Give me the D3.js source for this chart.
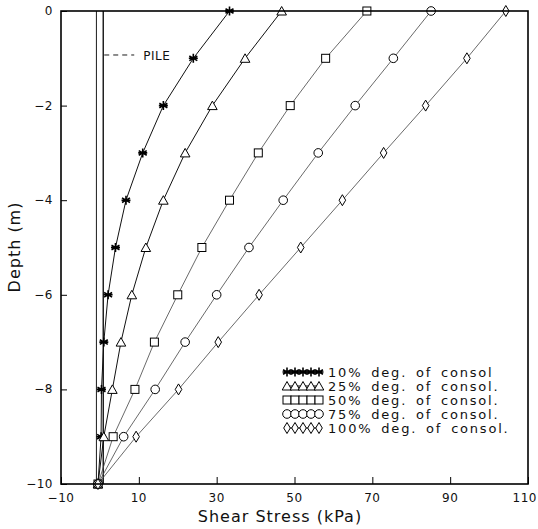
<!DOCTYPE html>
<html>
<head>
<meta charset="utf-8">
<script src="https://cdn.jsdelivr.net/npm/d3@7"></script>
<style>
  body { margin: 0; background: #fff; }
  text { font-family: "DejaVu Sans", sans-serif; fill: #111; }
</style>
</head>
<body>
<svg id="svg1"></svg>
<script>
// depth in m, shear stress in kPa
var depth = [0, -1, -2, -3, -4, -5, -6, -7, -8, -9, -10];
var cons10  = [33.3, 24.0, 16.3, 11.0, 6.7, 4.0, 2.1, 1.0, 0.4, 0.3, -0.5];
var cons25  = [46.7, 37.3, 28.9, 21.9, 16.3, 11.8, 8.2, 5.4, 3.2, 1.0, -0.5];
var cons50  = [68.6, 58.0, 48.9, 40.7, 33.3, 26.2, 20.0, 14.0, 9.0, 3.4, -0.5];
var cons75  = [85.1, 75.4, 65.6, 56.1, 47.1, 38.3, 30.0, 21.9, 14.2, 6.1, -0.5];
var cons100 = [104.3, 94.3, 83.7, 72.9, 62.3, 51.6, 40.9, 30.4, 20.2, 9.3, -0.5];
var seriesNames = ['10% deg. of consol', '25% deg. of consol.', '50% deg. of consol.',
                   '75% deg. of consol.', '100% deg. of consol.'];
var xTicks = [-10, 10, 30, 50, 70, 90, 110];
var yTicks = [0, -2, -4, -6, -8, -10];
var pileEdges = [-0.9, 0.85];

var width = 538, height = 529;
var svg = d3.select('#svg1').attr('width', width).attr('height', height);

var x = d3.scaleLinear().domain([-10, 110]).range([61, 528]);
var y = d3.scaleLinear().domain([-10, 0]).range([484, 11]);

var allSeries = [cons10, cons25, cons50, cons75, cons100];
var markers = ['star', 'triangle', 'square', 'circle', 'diamond'];

function drawMarker(g, kind, cx, cy) {
    var m = g.append('g').attr('transform', 'translate(' + cx + ',' + cy + ')');
    if (kind == 'star') {
        m.append('path')
            .attr('d', 'M0,-4.5L0,4.5M-4,-2.3L4,2.3M-4,2.3L4,-2.3M-4.5,0L4.5,0')
            .attr('stroke', '#000').attr('stroke-width', 1.6);
    } else if (kind == 'triangle') {
        m.append('path').attr('d', 'M0,-4.5L4.8,4L-4.8,4Z')
            .attr('fill', '#fff').attr('stroke', '#000').attr('stroke-width', 1);
    } else if (kind == 'square') {
        m.append('rect').attr('x', -4).attr('y', -4).attr('width', 8).attr('height', 8)
            .attr('fill', '#fff').attr('stroke', '#000').attr('stroke-width', 1);
    } else if (kind == 'circle') {
        m.append('circle').attr('r', 4.3)
            .attr('fill', '#fff').attr('stroke', '#000').attr('stroke-width', 1);
    } else {
        m.append('path').attr('d', 'M0,-5.5L3.3,0L0,5.5L-3.3,0Z')
            .attr('fill', '#fff').attr('stroke', '#000').attr('stroke-width', 1);
    }
}

// pile
svg.selectAll('.pile').data(pileEdges).enter().append('line')
    .attr('x1', function(d) { return x(d); }).attr('x2', function(d) { return x(d); })
    .attr('y1', y(0)).attr('y2', y(-10))
    .attr('stroke', '#000').attr('stroke-width', function(d, i) { return i == 0 ? 0.9 : 1.3; });

svg.append('line')
    .attr('x1', x(pileEdges[1]) + 1).attr('x2', x(pileEdges[1]) + 31)
    .attr('y1', y(-0.93)).attr('y2', y(-0.93))
    .attr('stroke', '#000').attr('stroke-width', 0.9).attr('stroke-dasharray', '5,4');
svg.append('text').attr('x', x(pileEdges[1]) + 40).attr('y', y(-0.93) + 5)
    .style('font-size', '12px').style('letter-spacing', '0.5px').text('PILE');

// curves
var line = d3.line()
    .x(function(d) { return x(d[0]); })
    .y(function(d) { return y(d[1]); });

allSeries.forEach(function(s, i) {
    var pts = s.map(function(v, j) { return [v, depth[j]]; });
    svg.append('path').datum(pts)
        .attr('d', line)
        .attr('fill', 'none')
        .attr('stroke', i < 2 ? '#111' : '#444')
        .attr('stroke-width', i < 2 ? 1 : 0.8);
});
allSeries.forEach(function(s, i) {
    var g = svg.append('g');
    s.forEach(function(v, j) {
        drawMarker(g, markers[i], x(v), y(depth[j]));
    });
});

// frame
svg.append('rect')
    .attr('x', x(-10)).attr('y', y(0))
    .attr('width', x(110) - x(-10)).attr('height', y(-10) - y(0))
    .attr('fill', 'none').attr('stroke', '#000').attr('stroke-width', 1.6);

// axes (ticks inward)
var xAxis = d3.axisTop(x).tickValues(xTicks).tickSize(7).tickFormat('');
svg.append('g').attr('transform', 'translate(0,' + y(-10) + ')').call(xAxis)
    .call(function(g) { g.select('.domain').remove(); });
svg.append('g').selectAll('text').data(xTicks).enter().append('text')
    .attr('x', function(d, i) { return i == xTicks.length - 1 ? width - 1 : x(d); })
    .attr('y', y(-10) + 18)
    .attr('text-anchor', function(d, i) { return i == xTicks.length - 1 ? 'end' : 'middle'; })
    .style('font-size', '12px').style('letter-spacing', '0.5px')
    .text(function(d) { return d < 0 ? '\u2212' + Math.abs(d) : d; });

var yAxis = d3.axisRight(y).tickValues(yTicks).tickSize(6).tickFormat('');
svg.append('g').attr('transform', 'translate(' + x(-10) + ',0)').call(yAxis)
    .call(function(g) { g.select('.domain').remove(); });
svg.append('g').selectAll('text').data(yTicks).enter().append('text')
    .attr('x', x(-10) - 8).attr('y', function(d) { return y(d) + 4; })
    .attr('text-anchor', 'end').style('font-size', '12px').style('letter-spacing', '0.5px')
    .text(function(d) { return d < 0 ? '\u2212' + Math.abs(d) : d; });

svg.selectAll('.tick line').attr('stroke', '#000').attr('stroke-width', 1);

// axis titles
svg.append('text').attr('x', 280).attr('y', 522).attr('text-anchor', 'middle')
    .style('font-size', '16px').style('letter-spacing', '1px').text('Shear Stress (kPa)');
svg.append('text').attr('transform', 'translate(20,' + 247 + ') rotate(-90)')
    .attr('text-anchor', 'middle')
    .style('font-size', '16px').style('letter-spacing', '1px').text('Depth (m)');

// legend
var legend = svg.append('g');
seriesNames.forEach(function(name, i) {
    var ly = 372 + i * 14;
    legend.append('line').attr('x1', 285).attr('x2', 321).attr('y1', ly).attr('y2', ly)
        .attr('stroke', '#000').attr('stroke-width', 1);
    for (var k = 0; k < 5; k++) {
        drawMarker(legend, markers[i], 287 + k * 8, ly);
    }
    legend.append('text').attr('x', 328).attr('y', ly + 5)
        .style('font-size', '13px').style('letter-spacing', '1.8px').style('word-spacing', '3px')
        .text(name);
});
</script>
</body>
</html>
